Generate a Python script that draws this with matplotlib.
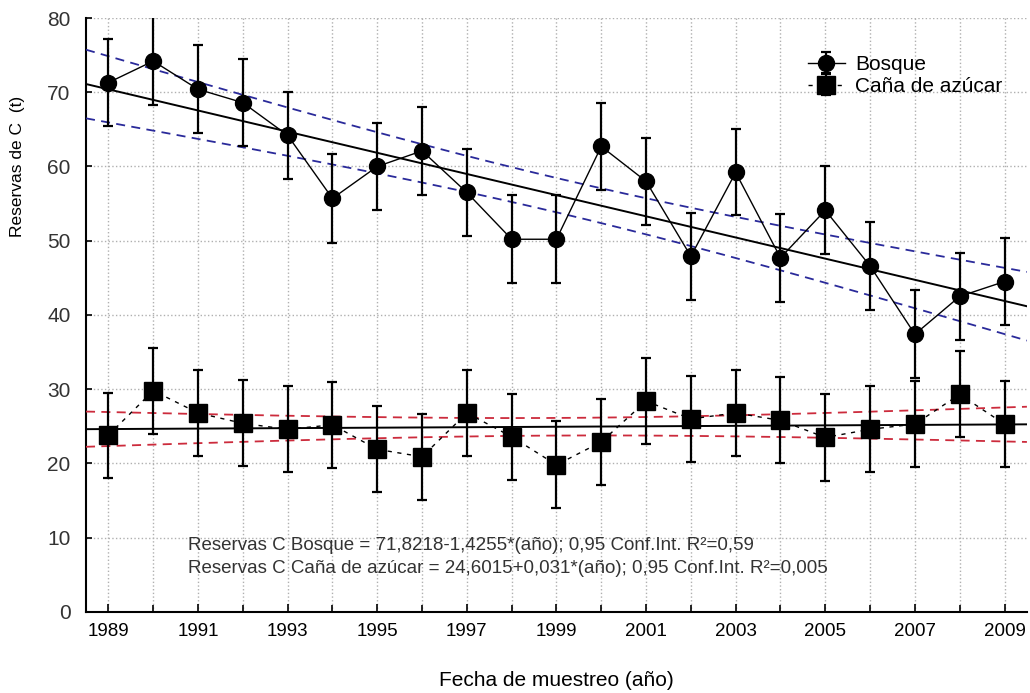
import numpy as np
import matplotlib
matplotlib.use("Agg")
import matplotlib.pyplot as plt
from matplotlib.ticker import MultipleLocator

plt.rcParams['font.family'] = ['Liberation Sans', 'DejaVu Sans']

# datos
years = list(range(1989, 2010))
bosque = [71.3, 74.2, 70.4, 68.6, 64.2, 55.7, 60.0, 62.1, 56.5, 50.2, 50.2,
          62.7, 58.0, 47.9, 59.2, 47.7, 54.1, 46.6, 37.4, 42.5, 44.5]
bosque_err = [5.9, 5.9, 5.9, 5.9, 5.9, 6.0, 5.9, 5.9, 5.9, 5.9, 5.9,
              5.8, 5.9, 5.9, 5.8, 5.9, 5.9, 5.9, 5.9, 5.9, 5.9]
cana = [23.8, 29.8, 26.8, 25.4, 24.6, 25.2, 21.9, 20.9, 26.8, 23.6, 19.8,
        22.9, 28.4, 26.0, 26.8, 25.8, 23.5, 24.6, 25.3, 29.3, 25.3]
cana_err = [5.7, 5.8, 5.8, 5.8, 5.8, 5.8, 5.8, 5.8, 5.8, 5.8, 5.85,
            5.8, 5.8, 5.8, 5.8, 5.8, 5.8, 5.8, 5.8, 5.8, 5.8]

# coeficientes de la regresion (x = año - 1988)
bosque_coef = (71.8218, -1.4255)
cana_coef = (24.6015, 0.031)
t_crit = 2.093  # t(0.975, 19)

labels = ["Bosque", "Caña de azúcar"]
eq_text = ["Reservas C Bosque = 71,8218-1,4255*(año); 0,95 Conf.Int. R²=0,59",
           "Reservas C Caña de azúcar = 24,6015+0,031*(año); 0,95 Conf.Int. R²=0,005"]


def fit_band(y, coef, xs):
    x = np.array(years) - 1988
    y = np.array(y)
    pred = coef[0] + coef[1] * x
    s = np.sqrt(np.sum((y - pred) ** 2) / (len(x) - 2))
    sxx = np.sum((x - x.mean()) ** 2)
    xx = xs - 1988
    line = coef[0] + coef[1] * xx
    half = t_crit * s * np.sqrt(1.0 / len(x) + (xx - x.mean()) ** 2 / sxx)
    return line, line - half, line + half


fig = plt.figure(figsize=(10.3, 6.93), dpi=100)
ax = fig.add_axes([0.0835, 0.117, 0.9135, 0.857])

xs = np.linspace(1988.5, 2009.5, 200)

for vals, coef, bcol in [(bosque, bosque_coef, '#2a2a9a'), (cana, cana_coef, '#cc2b3c')]:
    line, lo, hi = fit_band(vals, coef, xs)
    ax.plot(xs, line, color='black', lw=1.4, zorder=3)
    ax.plot(xs, lo, color=bcol, lw=1.3, ls=(0, (5, 3.5)), zorder=3)
    ax.plot(xs, hi, color=bcol, lw=1.3, ls=(0, (5, 3.5)), zorder=3)

h1 = ax.errorbar(years, bosque, yerr=bosque_err, fmt='-o', color='black',
                 lw=1.0, ms=11.5, elinewidth=1.6, capsize=3.5, capthick=1.6,
                 zorder=5, label=labels[0])
h2 = ax.errorbar(years, cana, yerr=cana_err, fmt='s', ls=(0, (3, 4)), color='black',
                 lw=1.0, ms=13, elinewidth=1.6, capsize=3.5, capthick=1.6,
                 zorder=5, label=labels[1])

ax.set_xlim(1988.5, 2009.5)
ax.set_ylim(0, 80)
ax.xaxis.set_minor_locator(MultipleLocator(1))
ax.set_xticks(range(1989, 2010, 2))
ax.yaxis.set_major_locator(MultipleLocator(10))

ax.grid(True, which='both', axis='x', color='#b0b0b0', ls=':', lw=1.0)
ax.grid(True, which='major', axis='y', color='#b0b0b0', ls=':', lw=1.0)
ax.set_axisbelow(True)

ax.spines['top'].set_visible(False)
ax.spines['right'].set_visible(False)
ax.spines['left'].set_linewidth(1.5)
ax.spines['bottom'].set_linewidth(1.5)

ax.tick_params(axis='both', which='both', direction='in', width=1.2, colors='black')
ax.tick_params(axis='x', which='major', length=6, pad=8, labelsize=13.5)
ax.tick_params(axis='x', which='minor', length=5)
ax.tick_params(axis='y', which='major', length=4, pad=11, labelsize=15)
for lab in ax.get_yticklabels():
    lab.set_color('#333333')

ax.set_xlabel("Fecha de muestreo (año)", fontsize=15, labelpad=22)
ax.set_ylabel("Reservas de C  (t)", fontsize=12.5)
ax.yaxis.set_label_coords(-0.065, 0.75)

ax.text(1990.78, 8.9, eq_text[0], fontsize=13.5, color='#333333', va='center')
ax.text(1990.78, 5.9, eq_text[1], fontsize=13.5, color='#333333', va='center')

ax.legend(handles=[h1, h2], loc='upper left', bbox_to_anchor=(0.758, 0.952),
          frameon=False, fontsize=15, handlelength=1.8, handletextpad=0.5,
          borderaxespad=0, labelspacing=0.15)

fig.savefig("out.png", dpi=100)
